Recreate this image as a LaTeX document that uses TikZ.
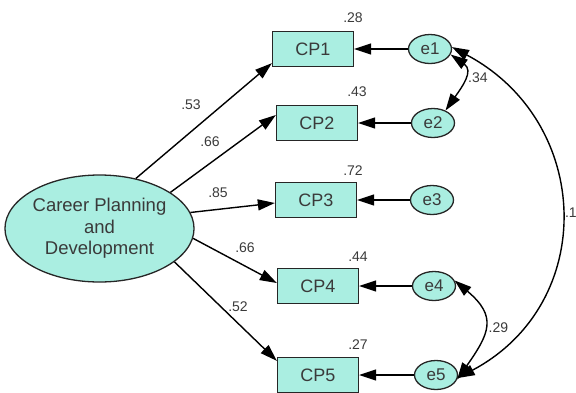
\documentclass[tikz,border=0pt]{standalone}
\usepackage{fontspec}
\setmainfont{Liberation Sans}
\usepackage{tikz}
\usetikzlibrary{arrows.meta, shapes.geometric}
\definecolor{amosaqua}{RGB}{170,238,225}
\definecolor{labelgray}{RGB}{58,58,58}

\begin{document}
\begin{tikzpicture}[
  x=1pt, y=1pt,
  >={Triangle[length=17pt,width=11pt]},
  every node/.style={text=labelgray},
  latent/.style={ellipse, draw=black!85, line width=1.3pt, fill=amosaqua, inner sep=0pt,
                 minimum width=181pt, minimum height=107pt, align=center,
                 font=\fontsize{18.5}{21.5}\selectfont},
  obs/.style={draw=black!85, line width=1.3pt, fill=amosaqua, inner sep=0pt,
              minimum width=81pt, minimum height=35pt, font=\fontsize{18}{20}\selectfont},
  err/.style={ellipse, draw=black!85, line width=1.3pt, fill=amosaqua, inner sep=0pt,
              minimum width=43pt, minimum height=29pt, font=\fontsize{17}{19}\selectfont},
  coef/.style={font=\fontsize{14}{16}\selectfont, inner sep=0pt},
  regline/.style={->, line width=1.4pt},
  covline/.style={<->, line width=1.4pt}
]
\useasboundingbox (0,0) rectangle (576,-392);
\node[latent] (CPD) at (99.5,-228.5) {Career Planning\\and\\Development};
\node[obs] (CP1) at (313,-49)  {CP1};
\node[obs] (CP2) at (317,-123) {CP2};
\node[obs] (CP3) at (316,-200) {CP3};
\node[obs] (CP4) at (318,-286) {CP4};
\node[obs] (CP5) at (318,-375) {CP5};
\node[err] (e1) at (430,-49)  {e1};
\node[err] (e2) at (433,-123) {e2};
\node[err] (e3) at (432,-200) {e3};
\node[err] (e4) at (434,-286) {e4};
\node[err] (e5) at (436,-375) {e5};
\node[coef] at (353,-18)  {.28};
\node[coef] at (357,-92)  {.43};
\node[coef] at (353,-171) {.72};
\node[coef] at (358,-257) {.44};
\node[coef] at (358,-345) {.27};
\node[coef] at (191,-105) {.53};
\node[coef] at (210,-142) {.66};
\node[coef] at (218,-193) {.85};
\node[coef] at (245,-248) {.66};
\node[coef] at (238,-307) {.52};
\draw[regline] (CPD.54)  -- ([yshift=4pt]CP1.south west);
\draw[regline] (CPD.27)  -- ([yshift=8pt]CP2.west);
\draw[regline] (CPD.10)  -- ([yshift=-3pt]CP3.west);
\draw[regline] (CPD.-6)  -- ([yshift=3pt]CP4.west);
\draw[regline] (CPD.-24) -- ([yshift=-4pt]CP5.north west);
\foreach \i in {1,...,5}
  \draw[regline] (e\i) -- (CP\i);
\draw[covline] (e1.-15) to[out=-35, in=55, looseness=1.3] node[coef, right=4pt, pos=0.45] {.34} (e2.45);
\draw[covline] (e4.15) to[out=-40, in=55, looseness=1.45] node[coef, right=4pt, pos=0.52] {.29} (e5.-12);
\draw[covline] (e1.5) to[out=-28, in=28, looseness=1.23] node[coef, right=4pt, anchor=west] {.12} (e5.-8);
\end{tikzpicture}
\end{document}
